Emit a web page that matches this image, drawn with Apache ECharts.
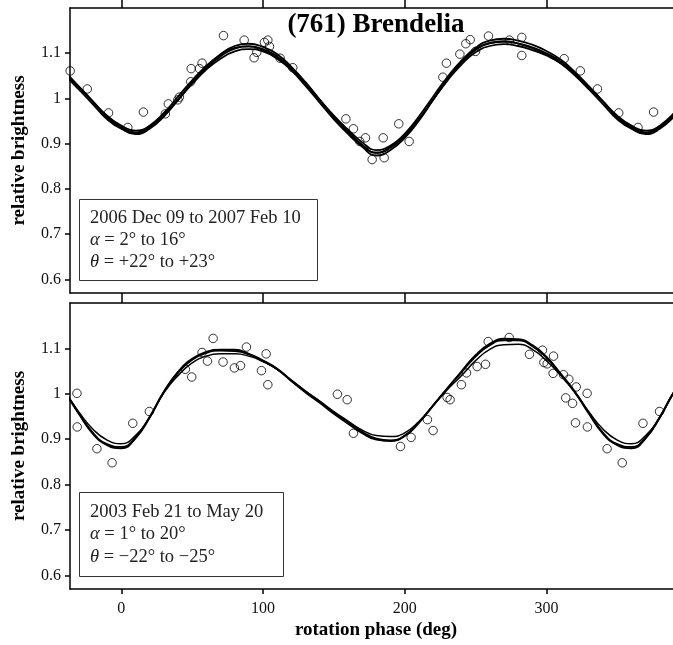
<!DOCTYPE html>
<html>
<head>
<meta charset="utf-8">
<script src="https://cdn.jsdelivr.net/npm/echarts@6/dist/echarts.min.js"></script>
<style>
html, body { margin: 0; padding: 0; background: #fff; }
#chart { width: 673px; height: 645px; }
</style>
</head>
<body>
<div id="chart"></div>
<script>
'use strict';
// observations, one rotation (deg 0-360); drawn again at +/-360 like the original
var topPhase = [4.6, 15.6, 31.1, 33.2, 39.9, 41.0, 49.0, 49.3, 55.1, 57.0, 72.1, 86.7, 93.7, 95.6, 101.0, 103.4, 104.5, 112.1, 121.0,
	158.5, 163.8, 168.3, 172.3, 177.0, 184.8, 185.5, 195.8, 203.1, 226.9, 229.4, 238.9, 243.1, 246.2, 249.9, 259.1, 273.9,
	282.6, 282.6, 312.5, 323.9, 336.0, 351.0];
var topBright = [0.936, 0.970, 0.966, 0.988, 0.997, 1.003, 1.037, 1.066, 1.066, 1.078, 1.139, 1.129, 1.090, 1.102, 1.124, 1.129, 1.115, 1.089, 1.068,
	0.955, 0.933, 0.905, 0.913, 0.865, 0.913, 0.869, 0.944, 0.905, 1.047, 1.078, 1.098, 1.121, 1.130, 1.104, 1.138, 1.129,
	1.135, 1.095, 1.088, 1.061, 1.021, 0.968];

var botPhase = [8.1, 19.8, 45.2, 49.7, 57.0, 60.8, 64.8, 71.8, 79.8, 84.1, 88.3, 98.9, 102.2, 103.4, 152.5, 159.4, 163.8,
	197.0, 204.5, 216.0, 220.0, 229.9, 232.0, 240.0, 243.6, 251.1, 257.0, 258.9, 273.7, 288.0, 297.2, 298.2, 300.5,
	304.7, 305.0, 312.0, 313.6, 315.8, 318.4, 320.5, 321.0, 328.7, 328.9, 342.8, 353.5];
var botBright = [0.935, 0.961, 1.054, 1.037, 1.091, 1.072, 1.122, 1.070, 1.057, 1.062, 1.103, 1.051, 1.088, 1.020, 0.999, 0.987, 0.913,
	0.884, 0.904, 0.943, 0.919, 0.992, 0.987, 1.020, 1.046, 1.060, 1.065, 1.115, 1.124, 1.087, 1.096, 1.069, 1.066,
	1.045, 1.083, 1.042, 0.991, 1.032, 0.979, 0.936, 1.015, 1.001, 0.927, 0.879, 0.848];

// model lightcurves, read every 10 deg
var curvePhase = [0, 10, 20, 30, 40, 50, 60, 70, 80, 90, 100, 110, 120, 130, 140, 150, 160, 170, 180,
	190, 200, 210, 220, 230, 240, 250, 260, 270, 280, 290, 300, 310, 320, 330, 340, 350, 360];
var topFitA = [0.934, 0.921, 0.933, 0.960, 0.997, 1.036, 1.070, 1.098, 1.116, 1.121, 1.114, 1.098, 1.070, 1.036, 0.997, 0.958, 0.923, 0.893, 0.874,
	0.886, 0.913, 0.951, 0.997, 1.043, 1.083, 1.112, 1.128, 1.132, 1.128, 1.119, 1.105, 1.086, 1.059, 1.027, 0.993, 0.958, 0.934];
var topFitB = [0.937, 0.925, 0.936, 0.962, 0.997, 1.034, 1.067, 1.093, 1.110, 1.115, 1.109, 1.093, 1.067, 1.034, 0.997, 0.960, 0.927, 0.898, 0.880,
	0.891, 0.917, 0.953, 0.997, 1.041, 1.079, 1.107, 1.122, 1.126, 1.122, 1.113, 1.100, 1.082, 1.056, 1.026, 0.993, 0.960, 0.937];
var topFitC = [0.940, 0.929, 0.939, 0.964, 0.997, 1.032, 1.064, 1.088, 1.104, 1.109, 1.104, 1.088, 1.064, 1.032, 0.997, 0.962, 0.931, 0.903, 0.886,
	0.896, 0.921, 0.955, 0.997, 1.039, 1.075, 1.102, 1.116, 1.120, 1.116, 1.107, 1.095, 1.078, 1.053, 1.025, 0.993, 0.962, 0.940];
var topFitD = [0.933, 0.924, 0.940, 0.968, 1.004, 1.040, 1.072, 1.096, 1.112, 1.115, 1.107, 1.089, 1.062, 1.028, 0.991, 0.954, 0.922, 0.895, 0.880,
	0.894, 0.922, 0.960, 1.004, 1.047, 1.083, 1.109, 1.123, 1.126, 1.121, 1.111, 1.097, 1.078, 1.051, 1.020, 0.987, 0.954, 0.933];

var botFitA = [0.880, 0.902, 0.948, 1.004, 1.048, 1.077, 1.092, 1.097, 1.097, 1.088, 1.073, 1.055, 1.029, 1.005, 0.983, 0.959, 0.937, 0.916, 0.901,
	0.897, 0.908, 0.937, 0.974, 1.011, 1.049, 1.085, 1.110, 1.121, 1.120, 1.107, 1.081, 1.044, 1.004, 0.956, 0.912, 0.887, 0.880];
var botFitB = [0.883, 0.904, 0.949, 1.004, 1.046, 1.075, 1.090, 1.095, 1.094, 1.087, 1.072, 1.054, 1.028, 1.003, 0.980, 0.956, 0.934, 0.913, 0.899,
	0.896, 0.907, 0.936, 0.974, 1.012, 1.047, 1.082, 1.107, 1.118, 1.118, 1.105, 1.080, 1.044, 1.005, 0.958, 0.914, 0.889, 0.883];
var botFitC = [0.890, 0.908, 0.948, 1.002, 1.040, 1.068, 1.083, 1.088, 1.088, 1.083, 1.071, 1.054, 1.030, 1.006, 0.984, 0.961, 0.940, 0.920, 0.908,
	0.906, 0.914, 0.939, 0.974, 1.009, 1.040, 1.073, 1.098, 1.108, 1.109, 1.098, 1.073, 1.041, 1.003, 0.960, 0.922, 0.898, 0.890];

var xTicks = [0, 100, 200, 300];
var yTicks = [0.6, 0.7, 0.8, 0.9, 1, 1.1];

var X_MIN = -36.2, X_MAX = 389.3;
var SERIF = '"Liberation Serif", "DejaVu Serif", serif';

function wrapPoints(ph, val) {
	var out = [];
	for (var k = -360; k <= 360; k += 360) {
		for (var i = 0; i < ph.length; i++) {
			var x = ph[i] + k;
			if (x >= X_MIN && x <= X_MAX) out.push([x, val[i]]);
		}
	}
	return out;
}

function wrapCurve(ph, val) {
	var out = [];
	for (var k = -360; k <= 360; k += 360) {
		for (var i = 0; i < ph.length; i++) {
			if (k < 360 && i === ph.length - 1) continue;
			var x = ph[i] + k;
			if (x >= X_MIN - 40 && x <= X_MAX + 40) out.push([x, val[i]]);
		}
	}
	return out;
}

function xAxisFor(grid, pos, tickLen, withLabels) {
	return {
		type: 'value', gridIndex: grid, position: pos, min: X_MIN, max: X_MAX,
		splitLine: { show: false },
		axisLine: { show: true, onZero: false, lineStyle: { color: '#000', width: 1.5 } },
		axisTick: { show: true, inside: false, length: tickLen, customValues: xTicks, lineStyle: { color: '#000', width: 1.5 } },
		axisLabel: withLabels ? {
			show: true, customValues: xTicks, margin: 12, color: '#111', fontFamily: SERIF, fontSize: 16
		} : { show: false },
		name: withLabels ? 'rotation phase (deg)' : '',
		nameLocation: 'middle', nameGap: 32,
		nameTextStyle: { color: '#000', fontFamily: SERIF, fontWeight: 'bold', fontSize: 19, padding: [0, 0, 0, 9] }
	};
}

function yAxisFor(grid) {
	return {
		type: 'value', gridIndex: grid, min: 0.57, max: 1.2,
		splitLine: { show: false },
		axisLine: { show: true, onZero: false, lineStyle: { color: '#000', width: 1.5 } },
		axisTick: { show: true, inside: false, length: 5, customValues: yTicks, lineStyle: { color: '#000', width: 1.5 } },
		axisLabel: {
			customValues: yTicks, margin: 9, color: '#111', fontFamily: SERIF, fontSize: 16,
			formatter: function(v) { return String(Math.round(v * 10) / 10); }
		},
		name: 'relative brightness', nameLocation: 'middle', nameGap: 41,
		nameTextStyle: { color: '#000', fontFamily: SERIF, fontWeight: 'bold', fontSize: 19 }
	};
}

function fitSeries(xi, yi, vals, w) {
	return {
		type: 'line', xAxisIndex: xi, yAxisIndex: yi, data: wrapCurve(curvePhase, vals),
		showSymbol: false, smooth: true, silent: true,
		lineStyle: { color: '#000', width: w }
	};
}

function pointSeries(xi, yi, ph, val) {
	return {
		type: 'scatter', xAxisIndex: xi, yAxisIndex: yi, data: wrapPoints(ph, val),
		symbol: 'circle', symbolSize: 8.5, silent: true, z: 3,
		itemStyle: { color: 'rgba(0,0,0,0)', borderColor: '#000', borderWidth: 1 }
	};
}

function boxText(x, y, text) {
	return {
		type: 'text', x: x, y: y, z: 10,
		style: {
			text: text, fill: '#222', font: '18.5px ' + SERIF, verticalAlign: 'middle',
			rich: { i: { fontStyle: 'italic', fontFamily: SERIF, fontSize: 18.5, fill: '#222' } }
		}
	};
}

var option = {
	animation: false,
	backgroundColor: '#fff',
	grid: [
		{ left: 70, right: 0, top: 8, height: 285, outerBoundsMode: 'none' },
		{ left: 70, right: 0, top: 303, height: 286, outerBoundsMode: 'none' }
	],
	xAxis: [
		xAxisFor(0, 'top', 8, false),
		xAxisFor(0, 'bottom', 5, false),
		xAxisFor(1, 'top', 5, false),
		xAxisFor(1, 'bottom', 5, true)
	],
	yAxis: [yAxisFor(0), yAxisFor(1)],
	series: [
		fitSeries(1, 0, topFitA, 1.8),
		fitSeries(1, 0, topFitB, 1.8),
		fitSeries(1, 0, topFitC, 1.8),
		fitSeries(1, 0, topFitD, 1.8),
		pointSeries(1, 0, topPhase, topBright),
		fitSeries(3, 1, botFitA, 2),
		fitSeries(3, 1, botFitB, 1.8),
		fitSeries(3, 1, botFitC, 1.5),
		pointSeries(3, 1, botPhase, botBright)
	],
	graphic: [
		{
			type: 'text', x: 376, y: 25, z: 10,
			style: { text: '(761) Brendelia', fill: '#000', font: 'bold 27px ' + SERIF, align: 'center', verticalAlign: 'middle' }
		},
		{ type: 'rect', z: 9, shape: { x: 79.5, y: 199.5, width: 238, height: 81 }, style: { fill: '#fff', stroke: '#333', lineWidth: 1 } },
		boxText(90, 218, '2006 Dec 09 to 2007 Feb 10'),
		boxText(90, 240.5, '{i|α} = 2° to 16°'),
		boxText(90, 262.5, '{i|θ} = +22° to +23°'),
		{ type: 'rect', z: 9, shape: { x: 79.5, y: 492.5, width: 204, height: 84 }, style: { fill: '#fff', stroke: '#333', lineWidth: 1 } },
		boxText(90, 512, '2003 Feb 21 to May 20'),
		boxText(90, 534.5, '{i|α} = 1° to 20°'),
		boxText(90, 557, '{i|θ} = \u221222° to \u221225°')
	]
};

var myChart = echarts.init(document.getElementById('chart'));
myChart.setOption(option);
</script>
</body>
</html>
